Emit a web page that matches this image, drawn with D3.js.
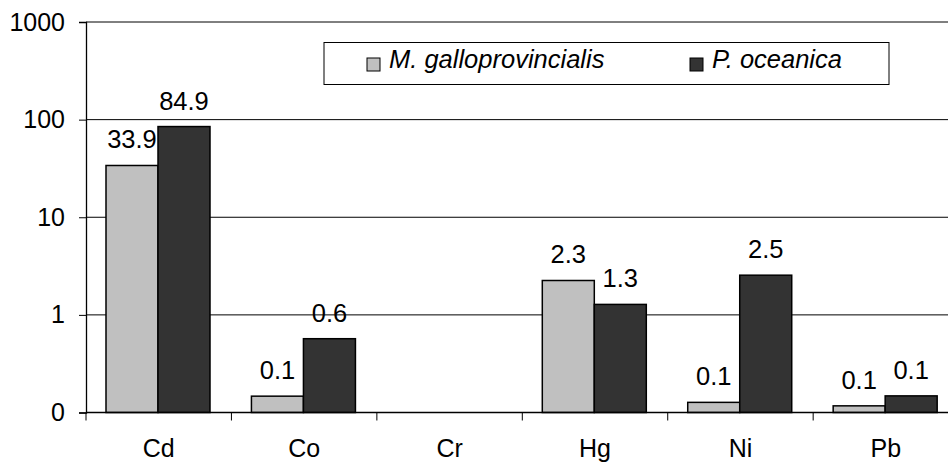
<!DOCTYPE html>
<html>
<head>
<meta charset="utf-8">
<script src="https://cdn.jsdelivr.net/npm/d3@7"></script>
<style>
  body { margin: 0; background: #fff; }
  svg { display: block; font-family: "Liberation Sans", Arial, sans-serif; }
</style>
</head>
<body>
<div id="chart"></div>
<script>
const elements = ["Cd", "Co", "Cr", "Hg", "Ni", "Pb"];
const seriesNames = ["M. galloprovincialis", "P. oceanica"];
const mussel = [33.9, 0.147, null, 2.25, 0.127, 0.117];
const seagrass = [84.9, 0.57, null, 1.28, 2.55, 0.148];
const musselLabels = ["33.9", "0.1", "", "2.3", "0.1", "0.1"];
const seagrassLabels = ["84.9", "0.6", "", "1.3", "2.5", "0.1"];
const yTicks = [0.1, 1, 10, 100, 1000];
const colors = ["#c0c0c0", "#333333"];

const W = 948, H = 468;
const plotLeft = 86, plotTop = 22, plotBottom = 412.5, plotRight = 958.6;

const svg = d3.select("#chart").append("svg")
  .attr("width", W).attr("height", H);

const x = d3.scaleBand().domain(elements).range([plotLeft, plotRight]).padding(0);
const x1 = d3.scaleBand().domain(seriesNames).range([20, 124]).padding(0);
const y = d3.scaleLog().domain([0.1, 1000]).range([plotBottom, plotTop]);

// gridlines
svg.append("g")
  .selectAll("line")
  .data(yTicks.slice(1))
  .join("line")
  .attr("x1", plotLeft).attr("x2", W)
  .attr("y1", d => y(d)).attr("y2", d => y(d))
  .attr("stroke", "#000").attr("stroke-width", 1);

// y axis
svg.append("g")
  .attr("transform", `translate(${plotLeft},0)`)
  .call(d3.axisLeft(y).tickValues(yTicks).tickSize(7).tickPadding(14)
    .tickFormat(d => d === 0.1 ? "0" : d3.format("d")(d)))
  .call(g => g.select(".domain").attr("stroke", "#000").attr("stroke-width", 1.3))
  .call(g => g.selectAll(".tick line").attr("stroke", "#000"))
  .selectAll("text")
  .attr("fill", "#000").attr("font-size", "25px")
  .attr("font-family", "Liberation Sans, Arial, sans-serif");

// bars
const rows = elements.map((e, i) => ({
  e,
  vals: [
    { s: seriesNames[0], v: mussel[i], label: musselLabels[i], c: colors[0] },
    { s: seriesNames[1], v: seagrass[i], label: seagrassLabels[i], c: colors[1] }
  ]
}));

const groups = svg.append("g").selectAll("g")
  .data(rows)
  .join("g")
  .attr("transform", d => `translate(${x(d.e)},0)`);

groups.selectAll("rect")
  .data(d => d.vals.filter(v => v.v != null))
  .join("rect")
  .attr("x", d => x1(d.s))
  .attr("width", x1.bandwidth())
  .attr("y", d => y(d.v))
  .attr("height", d => plotBottom - y(d.v))
  .attr("fill", d => d.c)
  .attr("stroke", "#000")
  .attr("stroke-width", 1.5);

groups.selectAll("text")
  .data(d => d.vals.filter(v => v.v != null))
  .join("text")
  .attr("x", d => x1(d.s) + x1.bandwidth() / 2)
  .attr("y", d => y(d.v) - 17)
  .attr("text-anchor", "middle")
  .attr("font-size", "25.5px")
  .attr("fill", "#000")
  .text(d => d.label);

// x axis
svg.append("g")
  .attr("transform", `translate(0,${plotBottom})`)
  .call(d3.axisBottom(x).tickSize(0).tickPadding(27))
  .call(g => g.select(".domain").remove())
  .selectAll("text")
  .attr("fill", "#000").attr("font-size", "25px")
  .attr("font-family", "Liberation Sans, Arial, sans-serif");

svg.append("line")
  .attr("x1", plotLeft).attr("x2", W)
  .attr("y1", plotBottom).attr("y2", plotBottom)
  .attr("stroke", "#000").attr("stroke-width", 1.3);

// category separators
svg.append("g")
  .selectAll("line")
  .data(elements)
  .join("line")
  .attr("x1", d => x(d)).attr("x2", d => x(d))
  .attr("y1", plotBottom).attr("y2", plotBottom + 8)
  .attr("stroke", "#000");

// legend
const legend = svg.append("g");
legend.append("rect")
  .attr("x", 324).attr("y", 42.5).attr("width", 565).attr("height", 42)
  .attr("fill", "#fff").attr("stroke", "#000").attr("stroke-width", 1);

const legendX = [367, 690];
seriesNames.forEach((name, i) => {
  legend.append("rect")
    .attr("x", legendX[i]).attr("y", 58)
    .attr("width", 13).attr("height", 13)
    .attr("fill", colors[i]).attr("stroke", "#000").attr("stroke-width", 1);
  legend.append("text")
    .attr("x", legendX[i] + 22).attr("y", 68)
    .attr("font-size", "25.5px").attr("font-style", "italic")
    .attr("fill", "#000")
    .text(name);
});
</script>
</body>
</html>
